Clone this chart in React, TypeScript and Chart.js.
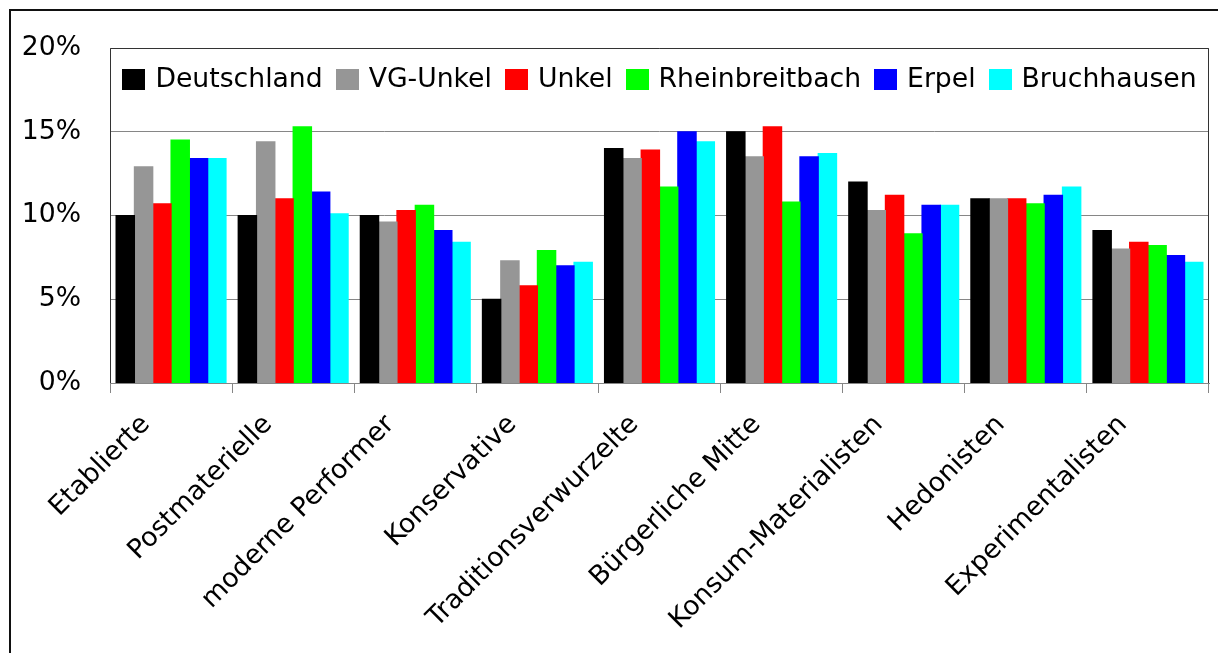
import React, { useEffect, useRef } from "react";
import { Chart, registerables } from "chart.js";

Chart.register(...registerables);

const categories = [
  "Etablierte",
  "Postmaterielle",
  "moderne Performer",
  "Konservative",
  "Traditionsverwurzelte",
  "Bürgerliche Mitte",
  "Konsum-Materialisten",
  "Hedonisten",
  "Experimentalisten",
];

const deutschland = [10.0, 10.0, 10.0, 5.0, 14.0, 15.0, 12.0, 11.0, 9.1];
const vgUnkel = [12.9, 14.4, 9.6, 7.3, 13.4, 13.5, 10.3, 11.0, 8.0];
const unkel = [10.7, 11.0, 10.3, 5.8, 13.9, 15.3, 11.2, 11.0, 8.4];
const rheinbreitbach = [14.5, 15.3, 10.6, 7.9, 11.7, 10.8, 8.9, 10.7, 8.2];
const erpel = [13.4, 11.4, 9.1, 7.0, 15.0, 13.5, 10.6, 11.2, 7.6];
const bruchhausen = [13.4, 10.1, 8.4, 7.2, 14.4, 13.7, 10.6, 11.7, 7.2];

const seriesNames = ["Deutschland", "VG-Unkel", "Unkel", "Rheinbreitbach", "Erpel", "Bruchhausen"];
const seriesColors = ["#000000", "#969696", "#FF0000", "#00FF00", "#0000FF", "#00FFFF"];

const yTicks = [0, 5, 10, 15, 20];

const FONT = '"DejaVu Sans", Verdana, sans-serif';
const FONT_SIZE = 26.67;

const frameBorder = {
  id: "frameBorder",
  afterDraw(chart: any) {
    const { ctx, chartArea } = chart;
    ctx.save();
    // outer frame (left and top visible)
    ctx.strokeStyle = "#111111";
    ctx.lineWidth = 2;
    ctx.beginPath();
    ctx.moveTo(10, chart.height);
    ctx.lineTo(10, 10);
    ctx.lineTo(chart.width, 10);
    ctx.stroke();
    // plot area border
    ctx.strokeStyle = "#333333";
    ctx.lineWidth = 1;
    ctx.beginPath();
    ctx.moveTo(Math.round(chartArea.left) + 0.5, Math.round(chartArea.bottom));
    ctx.lineTo(Math.round(chartArea.left) + 0.5, Math.round(chartArea.top) + 0.5);
    ctx.lineTo(Math.round(chartArea.right) - 0.5, Math.round(chartArea.top) + 0.5);
    ctx.lineTo(Math.round(chartArea.right) - 0.5, Math.round(chartArea.bottom));
    ctx.stroke();
    ctx.restore();
  },
};

const BOX_W = 23;
const BOX_H = 21;
const BOX_GAP = 10;
const ITEM_GAP = 13;

const legendInArea = {
  id: "legendInArea",
  afterDraw(chart: any) {
    const { ctx, chartArea } = chart;
    ctx.save();
    ctx.font = `${FONT_SIZE}px ${FONT}`;
    const items = chart.data.datasets.map((ds: any) => ({
      label: ds.label,
      color: ds.backgroundColor,
      w: ctx.measureText(ds.label).width,
    }));
    const total =
      items.reduce((s: number, it: any) => s + BOX_W + BOX_GAP + it.w, 0) + ITEM_GAP * (items.length - 1);
    let x = (chartArea.left + chartArea.right) / 2 - total / 2;
    const cy = chartArea.top + 31.5;
    ctx.textBaseline = "middle";
    ctx.textAlign = "left";
    items.forEach((it: any) => {
      ctx.fillStyle = it.color;
      ctx.fillRect(Math.round(x), Math.round(cy - BOX_H / 2), BOX_W, BOX_H);
      ctx.fillStyle = "#000000";
      ctx.fillText(it.label, x + BOX_W + BOX_GAP, cy + 1);
      x += BOX_W + BOX_GAP + it.w + ITEM_GAP;
    });
    ctx.restore();
  },
};

export default function App() {
  const ref = useRef<HTMLCanvasElement | null>(null);

  useEffect(() => {
    if (!ref.current) return;
    Chart.defaults.font.family = FONT;
    const allSeries = [deutschland, vgUnkel, unkel, rheinbreitbach, erpel, bruchhausen];
    const chart = new Chart(ref.current, {
      type: "bar",
      data: {
        labels: categories,
        datasets: allSeries.map((values, i) => ({
          label: seriesNames[i],
          data: values,
          backgroundColor: seriesColors[i],
          borderWidth: 0,
          inflateAmount: 0.6,
          categoryPercentage: 0.9,
          barPercentage: 1.0,
        })),
      },
      options: {
        responsive: false,
        animation: false,
        devicePixelRatio: 1,
        layout: { padding: { top: 48, right: 9, bottom: 0, left: 0 } },
        plugins: {
          legend: { display: false },
          tooltip: { enabled: false },
          title: { display: false },
        },
        scales: {
          x: {
            ticks: {
              autoSkip: false,
              maxRotation: 45,
              minRotation: 45,
              font: { family: FONT, size: FONT_SIZE },
              color: "#000000",
              padding: 16,
              labelOffset: -25,
            },
            grid: {
              drawOnChartArea: false,
              tickLength: 10,
              color: "#868686",
              offset: true,
            },
            border: { color: "#868686" },
            afterFit: (s: any) => {
              s.height = 270;
            },
          },
          y: {
            min: yTicks[0],
            max: yTicks[yTicks.length - 1],
            afterBuildTicks: (s: any) => {
              s.ticks = yTicks.map((v) => ({ value: v }));
            },
            ticks: {
              callback: (v: any) => `${v}%`,
              font: { family: FONT, size: FONT_SIZE },
              color: "#000000",
              padding: 29,
            },
            grid: { color: "#868686", drawTicks: false, lineWidth: 1 },
            border: { display: false },
            afterFit: (s: any) => {
              s.width = 110;
            },
          },
        },
      },
      plugins: [frameBorder, legendInArea],
    });
    return () => chart.destroy();
  }, []);

  return (
    <div style={{ position: "absolute", left: 0, top: 0, width: 1218, height: 653, background: "#ffffff" }}>
      <canvas ref={ref} width={1218} height={653} style={{ width: 1218, height: 653, display: "block" }} />
    </div>
  );
}
